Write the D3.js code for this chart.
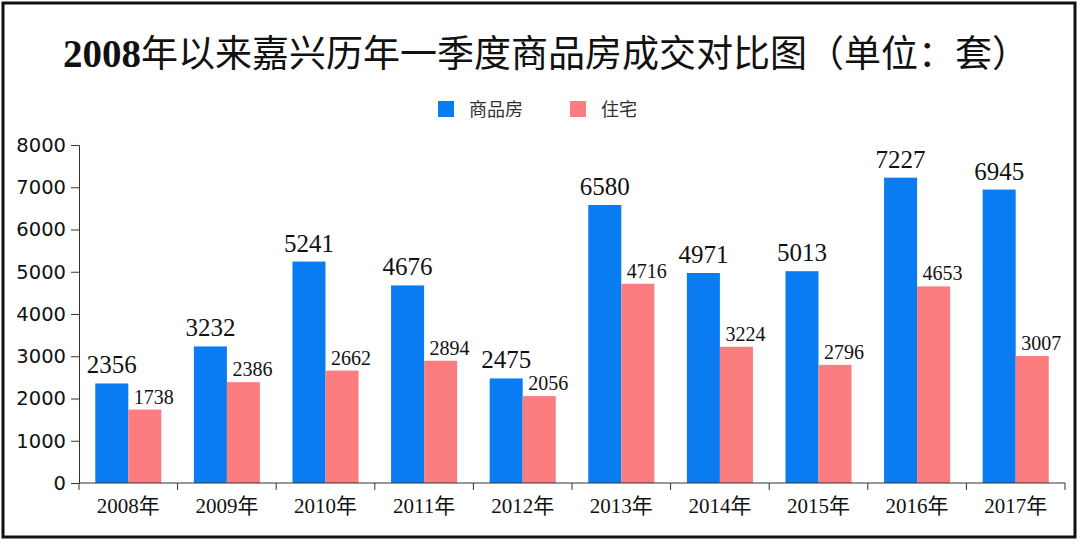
<!DOCTYPE html>
<html lang="zh">
<head>
<meta charset="utf-8">
<title>2008年以来嘉兴历年一季度商品房成交对比图</title>
<script src="https://d3js.org/d3.v7.min.js"></script>
<style>
  body { margin: 0; background: #fff; }
</style>
</head>
<body>
<script>
var w = 1081, h = 544;
var margin = {top: 145, right: 16, bottom: 61, left: 79};
var innerWidth = 1065 - margin.left;
var innerHeight = 483 - margin.top;

var years = ["2008年", "2009年", "2010年", "2011年", "2012年", "2013年", "2014年", "2015年", "2016年", "2017年"];
var seriesNames = ["商品房", "住宅"];
var commodity = [2356, 3232, 5241, 4676, 2475, 6580, 4971, 5013, 7227, 6945];
var residential = [1738, 2386, 2662, 2894, 2056, 4716, 3224, 2796, 4653, 3007];
var yTicks = [0, 1000, 2000, 3000, 4000, 5000, 6000, 7000, 8000];
var colors = ["#0a7cf2", "#fb7d7f"];

var data = years.map(function(y, i) {
  return {year: y, values: [commodity[i], residential[i]]};
});

var svg = d3.select("body").append("svg")
    .attr("width", w)
    .attr("height", h);

svg.append("rect")
    .attr("x", 0).attr("y", 0)
    .attr("width", w).attr("height", h)
    .attr("fill", "white");

// outer frame
svg.append("rect")
    .attr("x", 3).attr("y", 3)
    .attr("width", 1072).attr("height", 534)
    .attr("fill", "none")
    .attr("stroke", "#111")
    .attr("stroke-width", 3);

// title
var title = svg.append("text")
    .attr("x", 546)
    .attr("y", 67)
    .attr("text-anchor", "middle")
    .style("font-size", "37px")
    .style("fill", "#111");
title.append("tspan")
    .style("font-family", "'Liberation Serif', serif")
    .style("font-weight", "bold")
    .style("font-size", "39px")
    .text("2008");
title.append("tspan")
    .style("font-family", "'Noto Sans CJK SC', sans-serif")
    .style("font-weight", "400")
    .text("年以来嘉兴历年一季度商品房成交对比图（单位：套）");

// legend
var legend = svg.append("g").selectAll("g")
    .data(seriesNames)
    .enter().append("g")
    .attr("transform", function(d, i) { return "translate(" + [438, 570][i] + ",101)"; });
legend.append("rect")
    .attr("width", 16).attr("height", 16)
    .attr("fill", function(d, i) { return colors[i]; });
legend.append("text")
    .attr("x", 31).attr("y", 15)
    .style("font-family", "'Noto Sans CJK SC', sans-serif")
    .style("font-size", "18px")
    .style("fill", "#333")
    .text(function(d) { return d; });

var xScale = d3.scaleBand()
    .domain(years)
    .range([0, innerWidth])
    .paddingInner(0.33)
    .paddingOuter(0.165);

var subScale = d3.scaleBand()
    .domain([0, 1])
    .range([0, xScale.bandwidth()]);

var yScale = d3.scaleLinear()
    .domain([0, 8000])
    .range([innerHeight, 0]);

var g = svg.append("g")
    .attr("transform", "translate(" + margin.left + "," + margin.top + ")");

var groups = g.selectAll(".grp")
    .data(data)
    .enter().append("g")
    .attr("class", "grp")
    .attr("transform", function(d) { return "translate(" + xScale(d.year) + ",0)"; });

groups.selectAll("rect")
    .data(function(d) { return d.values; })
    .enter().append("rect")
    .attr("x", function(d, i) { return subScale(i); })
    .attr("y", function(d) { return yScale(d); })
    .attr("width", subScale.bandwidth())
    .attr("height", function(d) { return innerHeight - yScale(d); })
    .attr("fill", function(d, i) { return colors[i]; });

groups.selectAll("text.val")
    .data(function(d) { return d.values; })
    .enter().append("text")
    .attr("class", "val")
    .attr("x", function(d, i) { return subScale(i) + subScale.bandwidth() / 2 + (i === 1 ? 9 : 0); })
    .attr("y", function(d, i) { return yScale(d) - (i === 0 ? 10 : 6); })
    .attr("text-anchor", "middle")
    .style("font-family", "'Liberation Serif', serif")
    .style("font-size", function(d, i) { return i === 0 ? "25px" : "20px"; })
    .style("fill", "#111")
    .text(function(d) { return d; });

// x axis with ticks at band boundaries
var xAxisG = g.append("g")
    .attr("transform", "translate(0," + innerHeight + ")");
xAxisG.append("line")
    .attr("x1", 0).attr("x2", innerWidth)
    .attr("stroke", "#333");
var step = xScale.step();
xAxisG.selectAll("line.tick")
    .data(d3.range(years.length + 1))
    .enter().append("line")
    .attr("class", "tick")
    .attr("x1", function(d) { return d * step; })
    .attr("x2", function(d) { return d * step; })
    .attr("y1", 0).attr("y2", 7)
    .attr("stroke", "#333");
xAxisG.selectAll("text")
    .data(years)
    .enter().append("text")
    .attr("x", function(d) { return xScale(d) + xScale.bandwidth() / 2; })
    .attr("y", 30)
    .attr("text-anchor", "middle")
    .style("font-family", "'Liberation Serif', 'Noto Sans CJK SC', serif")
    .style("font-size", "21px")
    .style("fill", "#111")
    .text(function(d) { return d; });

// y axis
var yAxis = d3.axisLeft(yScale)
    .tickValues(yTicks)
    .tickSize(8)
    .tickPadding(5)
    .tickFormat(d3.format("d"));
var yAxisG = g.append("g").call(yAxis);
yAxisG.select(".domain").attr("stroke", "#333");
yAxisG.selectAll(".tick line").attr("stroke", "#333");
yAxisG.selectAll("text")
    .style("font-family", "'DejaVu Sans', sans-serif")
    .style("font-size", "19.5px")
    .style("fill", "#111");
</script>
</body>
</html>
